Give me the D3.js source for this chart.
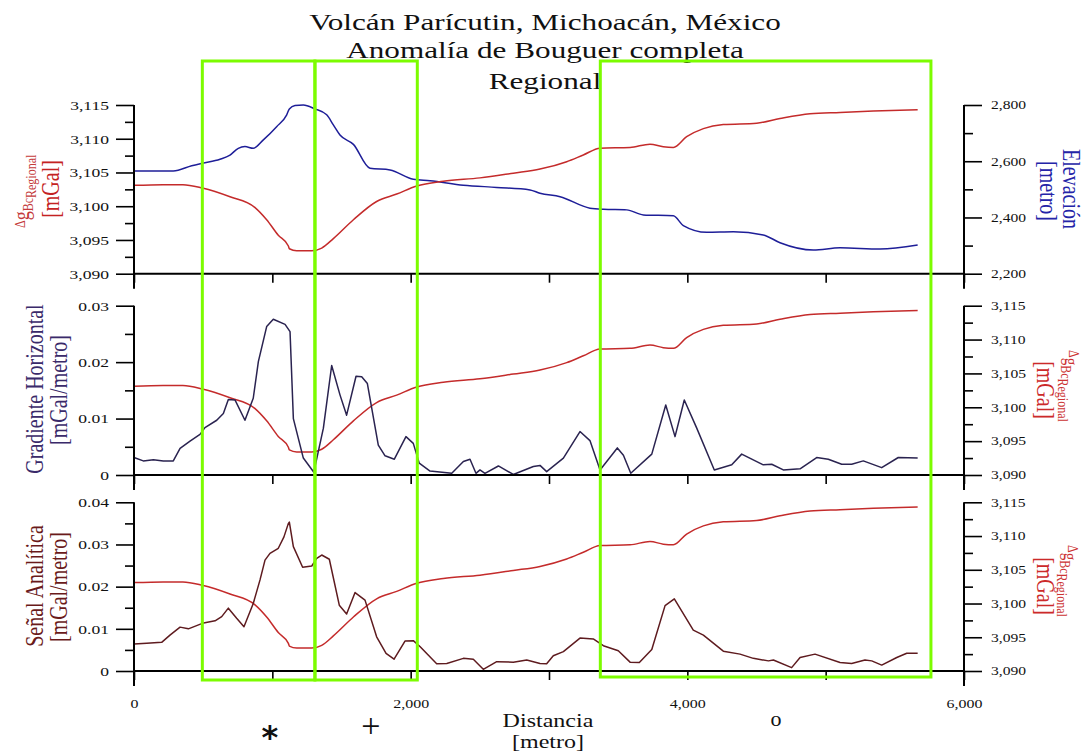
<!DOCTYPE html>
<html><head><meta charset="utf-8">
<script src="https://cdn.jsdelivr.net/npm/d3@7"></script>
<style>
body{margin:0;background:#fff}
svg{display:block}
</style>
</head><body>
<svg id="c" width="1087" height="756"></svg>
<script>
// ---------------- DATA ----------------
const titleLines = ["Volcán Parícutin, Michoacán, México", "Anomalía de Bouguer completa", "Regional"];

// Regional complete Bouguer anomaly (mGal) – same curve in all three panels
const bouguerDist = [0, 210, 354, 494, 694, 875, 959, 1043, 1116, 1123, 1176, 1285, 1357, 1441, 1586, 1754, 1899, 2044, 2236, 2501, 2742, 2935, 3128, 3248, 3369, 3586, 3730, 3826, 3899, 3995, 4116, 4260, 4501, 4670, 4887, 5104, 5345, 5665];
const bouguerVal  = [3103.1, 3103.2, 3103.2, 3102.7, 3101.4, 3099.8, 3098.0, 3095.7, 3094.1, 3093.7, 3093.4, 3093.4, 3093.8, 3095.2, 3098.0, 3100.7, 3101.8, 3103.0, 3103.7, 3104.2, 3104.9, 3105.5, 3106.6, 3107.6, 3108.6, 3108.7, 3109.2, 3108.8, 3108.7, 3110.3, 3111.5, 3112.1, 3112.3, 3113.0, 3113.7, 3113.9, 3114.1, 3114.3];

// Elevation (metro)
const elevDist = [0, 284, 417, 494, 622, 694, 754, 802, 862, 935, 1031, 1104, 1123, 1164, 1224, 1308, 1393, 1441, 1489, 1586, 1706, 1851, 2019, 2140, 2381, 2622, 2863, 2935, 3080, 3296, 3393, 3562, 3682, 3899, 3971, 4140, 4333, 4549, 4670, 4911, 5104, 5393, 5665];
const elevVal  = [2565, 2565, 2584, 2593, 2607, 2622, 2646, 2652, 2646, 2676, 2723, 2765, 2786, 2798, 2800, 2786, 2765, 2729, 2693, 2660, 2575, 2569, 2536, 2531, 2515, 2507, 2498, 2486, 2474, 2433, 2429, 2427, 2409, 2406, 2371, 2347, 2349, 2338, 2310, 2284, 2292, 2288, 2302];

// Horizontal gradient (mGal/metro)
const gradDist = [0, 67, 140, 212, 284, 333, 405, 477, 513, 598, 646, 682, 730, 802, 862, 899, 959, 1007, 1092, 1128, 1152, 1224, 1300, 1369, 1429, 1489, 1537, 1605, 1646, 1687, 1766, 1815, 1882, 1966, 2019, 2062, 2140, 2297, 2381, 2429, 2472, 2501, 2537, 2634, 2742, 2887, 2935, 2983, 3104, 3224, 3296, 3369, 3494, 3538, 3591, 3743, 3844, 3911, 3978, 4068, 4195, 4321, 4393, 4549, 4610, 4694, 4815, 4935, 5019, 5116, 5188, 5272, 5405, 5525, 5665];
const gradVal  = [0.0031, 0.0025, 0.0027, 0.0025, 0.0025, 0.0047, 0.0060, 0.0072, 0.0084, 0.0097, 0.0109, 0.0134, 0.0133, 0.0097, 0.0136, 0.0201, 0.0263, 0.0276, 0.0267, 0.0254, 0.0100, 0.0030, 0.0005, 0.0083, 0.0194, 0.0142, 0.0106, 0.0175, 0.0174, 0.0162, 0.0053, 0.0034, 0.0028, 0.0068, 0.0056, 0.0021, 0.0007, 0.0003, 0.0024, 0.0028, 0.0003, 0.0009, 0.0003, 0.0016, 0.0001, 0.0015, 0.0017, 0.0006, 0.0030, 0.0077, 0.0061, 0.0009, 0.0048, 0.0035, 0.0003, 0.0037, 0.0124, 0.0068, 0.0133, 0.0083, 0.0009, 0.0018, 0.0037, 0.0018, 0.0019, 0.0009, 0.0011, 0.0031, 0.0028, 0.0019, 0.0019, 0.0025, 0.0013, 0.0031, 0.0030];

// Analytic signal (mGal/metro)
const signalDist = [0, 92, 200, 260, 333, 393, 494, 586, 634, 682, 742, 795, 862, 911, 947, 983, 1043, 1084, 1116, 1123, 1152, 1219, 1285, 1321, 1357, 1412, 1484, 1537, 1598, 1670, 1754, 1822, 1880, 1959, 2019, 2067, 2188, 2261, 2381, 2453, 2525, 2622, 2742, 2839, 2935, 2983, 3031, 3104, 3224, 3320, 3393, 3501, 3586, 3653, 3743, 3839, 3906, 4043, 4116, 4260, 4381, 4477, 4586, 4622, 4754, 4815, 4923, 5104, 5188, 5284, 5333, 5405, 5514, 5586, 5665];
const signalVal  = [0.0064, 0.0066, 0.0068, 0.0085, 0.0104, 0.0100, 0.0113, 0.0119, 0.0129, 0.0149, 0.0125, 0.0105, 0.0160, 0.0216, 0.0263, 0.0279, 0.0291, 0.0318, 0.0350, 0.0353, 0.0295, 0.0246, 0.0249, 0.0267, 0.0275, 0.0265, 0.0156, 0.0135, 0.0186, 0.0168, 0.0081, 0.0042, 0.0028, 0.0071, 0.0072, 0.0058, 0.0017, 0.0018, 0.0030, 0.0028, 0.0004, 0.0022, 0.0021, 0.0026, 0.0018, 0.0017, 0.0036, 0.0046, 0.0078, 0.0076, 0.0060, 0.0048, 0.0021, 0.0020, 0.0051, 0.0155, 0.0171, 0.0097, 0.0085, 0.0047, 0.0040, 0.0030, 0.0024, 0.0026, 0.0008, 0.0032, 0.0040, 0.0020, 0.0018, 0.0026, 0.0024, 0.0014, 0.0032, 0.0042, 0.0042];

// Tick values
const bouguerTicks = [3090, 3095, 3100, 3105, 3110, 3115];
const elevTicks    = [2200, 2400, 2600, 2800];
const gradTicks    = [0, 0.01, 0.02, 0.03];
const signalTicks  = [0, 0.01, 0.02, 0.03, 0.04];
const distTicks    = [0, 1000, 2000, 3000, 4000, 5000, 6000];
const distLabels   = [0, 2000, 4000, 6000];

// Highlighted zones (distance, metro) and their markers
const zoneStart  = [494, 1308, 3371];
const zoneEnd    = [1308, 2048, 5761];
const zoneMarks  = ["*", "+", "o"];
const markDist   = [983, 1713, 4641];

// ---------------- DRAWING ----------------
const SX = 1.3;
const FONT = '"Liberation Serif","Times New Roman",serif';
const svg = d3.select("#c");

const x = d3.scaleLinear().domain([0, 6000]).range([134, 964]);

const C = {
  bouguer: "#c42b2b", elev: "#1e1e98", grad: "#2a2350", signal: "#5e1b1f",
  green: "#7cfc00"
};

function minorOf(ticks){
  const m = [];
  for (let i = 0; i < ticks.length - 1; i++) m.push((ticks[i] + ticks[i+1]) / 2);
  return m;
}

function stext(g, px, py, str, size, color, rot, anchor){
  return g.append("text")
    .attr("transform", `translate(${px},${py}) scale(${SX},1)` + (rot ? ` rotate(${rot})` : ""))
    .attr("font-family", FONT).attr("font-size", size).attr("fill", color)
    .attr("text-anchor", anchor || "middle").text(str);
}

function styleAxis(g, size){
  g.attr("font-family", FONT).attr("font-size", size);
  g.select(".domain").remove();
  g.selectAll(".tick line").attr("stroke", "#000").attr("stroke-width", 1.6);
  g.selectAll(".tick text").attr("fill", "#111").each(function(){
    const t = d3.select(this);
    const xx = +t.attr("x") || 0, yy = +t.attr("y") || 0;
    t.attr("transform", `translate(${xx},${yy}) scale(${SX},1)`).attr("x", 0).attr("y", 0);
  });
}

const panels = [
  {y0: 273.7, y1: 105,   left: bouguerTicks, right: elevTicks,    fmtL: d3.format(","), fmtR: d3.format(","),
   series: [[elevDist, elevVal, "R", C.elev, true], [bouguerDist, bouguerVal, "L", C.bouguer, true]]},
  {y0: 475,   y1: 305.7, left: gradTicks,    right: bouguerTicks, fmtL: d3.format(""), fmtR: d3.format(","),
   series: [[bouguerDist, bouguerVal, "R", C.bouguer, true], [gradDist, gradVal, "L", C.grad, false]]},
  {y0: 671,   y1: 502.3, left: signalTicks,  right: bouguerTicks, fmtL: d3.format(""), fmtR: d3.format(","),
   series: [[bouguerDist, bouguerVal, "R", C.bouguer, true], [signalDist, signalVal, "L", C.signal, false]]}
];

panels.forEach((p, i) => {
  const yL = d3.scaleLinear().domain(d3.extent(p.left)).range([p.y0, p.y1]);
  const yR = d3.scaleLinear().domain(d3.extent(p.right)).range([p.y0, p.y1]);
  const g = svg.append("g");

  // curves
  p.series.forEach(([xs, ys, side, col, smooth]) => {
    const ys2 = side === "L" ? yL : yR;
    const line = d3.line().x(d => x(d[0])).y(d => ys2(d[1]))
      .curve(smooth ? d3.curveMonotoneX : d3.curveLinear);
    g.append("path").datum(d3.zip(xs, ys)).attr("d", line)
      .attr("fill", "none").attr("stroke", col).attr("stroke-width", 1.5)
      .attr("stroke-linejoin", "round");
  });

  // left axis: major + minor
  const aL = g.append("g").attr("transform", `translate(${x(0)},0)`)
    .call(d3.axisLeft(yL).tickValues(p.left).tickFormat(p.fmtL).tickSize(18).tickSizeOuter(0).tickPadding(7));
  styleAxis(aL, 13.5);
  const aLm = g.append("g").attr("transform", `translate(${x(0)},0)`)
    .call(d3.axisLeft(yL).tickValues(minorOf(p.left)).tickFormat("").tickSize(9).tickSizeOuter(0));
  styleAxis(aLm, 13.5);

  // right axis
  const aR = g.append("g").attr("transform", `translate(${x(6000)},0)`)
    .call(d3.axisRight(yR).tickValues(p.right).tickFormat(p.fmtR).tickSize(18).tickSizeOuter(0).tickPadding(9));
  styleAxis(aR, 12);
  const aRm = g.append("g").attr("transform", `translate(${x(6000)},0)`)
    .call(d3.axisRight(yR).tickValues(minorOf(p.right)).tickFormat("").tickSize(9).tickSizeOuter(0));
  styleAxis(aRm, 12);

  // bottom axis
  const last = i === panels.length - 1;
  const aB = g.append("g").attr("transform", `translate(0,${p.y0})`)
    .call(d3.axisBottom(x).tickValues(distTicks)
      .tickFormat(d => (last && distLabels.includes(d)) ? d3.format(",")(d) : "")
      .tickSize(9).tickSizeOuter(0).tickPadding(19));
  styleAxis(aB, 12.3);

  // axis lines
  g.append("line").attr("x1", x(0)).attr("x2", x(0)).attr("y1", p.y1).attr("y2", p.y0 + 15)
    .attr("stroke", "#000").attr("stroke-width", 2);
  g.append("line").attr("x1", x(6000)).attr("x2", x(6000)).attr("y1", p.y1).attr("y2", p.y0 + 15)
    .attr("stroke", "#000").attr("stroke-width", 2);
  g.append("line").attr("x1", x(0)).attr("x2", x(6000)).attr("y1", p.y0).attr("y2", p.y0)
    .attr("stroke", "#000").attr("stroke-width", 2);
});

// ---------- titles ----------
const tg = svg.append("g");
[30, 58, 89].forEach((yy, k) => stext(tg, 545, yy, titleLines[k], 24, "#111"));

// ---------- axis titles ----------
function deltaLabel(px, py, rot, color, gSize){
  const t = svg.append("text")
    .attr("transform", `translate(${px},${py}) scale(${SX},1) rotate(${rot})`)
    .attr("font-family", FONT).attr("fill", color).attr("text-anchor", "start");
  t.append("tspan").attr("font-size", 12).attr("dy", -3).text("Δ");
  t.append("tspan").attr("font-size", gSize).attr("dy", 3).text("g");
  t.append("tspan").attr("font-size", 12).attr("dy", 3).text("Bc");
  t.append("tspan").attr("font-size", 12).attr("dy", 2).text("Regional");
}

// left
deltaLabel(29, 228, -90, "#c43a3a", 18);
stext(svg, 59, 189, "[mGal]", 20, "#c42222", -90);
stext(svg, 43, 389, "Gradiente Horizontal", 20, "#3a2a6a", -90);
stext(svg, 67, 390, "[mGal/metro]", 20, "#3a2a6a", -90);
stext(svg, 43, 586, "Señal Analítica", 20, "#6a1a1a", -90);
stext(svg, 67, 587, "[mGal/metro]", 20, "#6a1a1a", -90);

// right
stext(svg, 1063, 189, "Elevación", 20, "#2424a8", 90);
stext(svg, 1040, 191, "[metro]", 20, "#2424a8", 90);
stext(svg, 1037, 390, "[mGal]", 20, "#cc2a2a", 90);
deltaLabel(1065, 350, 90, "#cc3333", 15);
stext(svg, 1037, 586, "[mGal]", 20, "#cc2a2a", 90);
deltaLabel(1064, 545, 90, "#cc3333", 15);

// bottom
stext(svg, 548, 727, "Distancia", 18.5, "#111");
stext(svg, 548, 748, "[metro]", 18.5, "#111");

// ---------- highlight zones ----------
const zg = svg.append("g");
zoneStart.forEach((s, k) => {
  zg.append("rect").attr("x", x(s)).attr("y", 61)
    .attr("width", x(zoneEnd[k]) - x(s)).attr("height", k < 2 ? 619 : 616)
    .attr("fill", "none").attr("stroke", C.green).attr("stroke-width", 3);
});

// markers
svg.append("text").attr("x", x(markDist[0])).attr("y", 748).attr("text-anchor", "middle")
  .attr("font-family", '"DejaVu Sans",sans-serif').attr("font-weight", "bold").attr("font-size", 32).attr("fill", "#111").text(zoneMarks[0]);
svg.append("text").attr("x", x(markDist[1])).attr("y", 737).attr("text-anchor", "middle")
  .attr("font-family", FONT).attr("font-size", 34).attr("fill", "#111").text(zoneMarks[1]);
svg.append("text").attr("x", x(markDist[2])).attr("y", 726).attr("text-anchor", "middle")
  .attr("font-family", FONT).attr("font-size", 22).attr("fill", "#111").text(zoneMarks[2]);
</script>
</body></html>
